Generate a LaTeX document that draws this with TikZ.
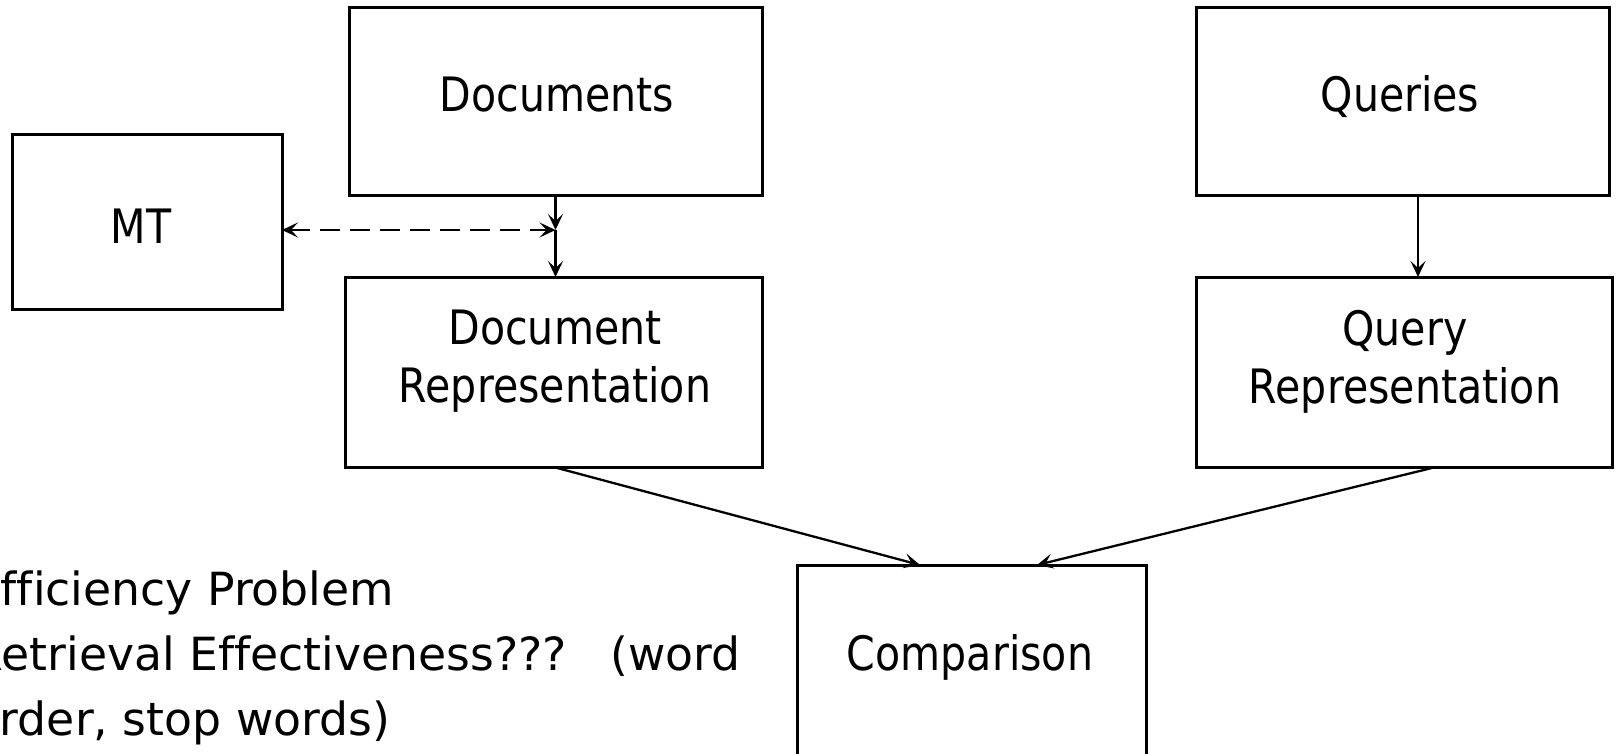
\documentclass[tikz,border=0pt]{standalone}
\usepackage{fontspec}
\setmainfont{DejaVu Sans}
\newfontfamily\boxfont{DejaVu Sans}[FakeStretch=0.867,Ligatures=NoCommon]
\newfontfamily\bodyfont{DejaVu Sans}[Ligatures=NoCommon]
\usetikzlibrary{arrows.meta}
\begin{document}
\begin{tikzpicture}[x=1pt,y=-1pt,
  box/.style={draw,line width=3pt,inner sep=0pt,outer sep=0pt},
  lbl/.style={inner sep=0pt,outer sep=0pt,font=\boxfont\fontsize{47.4}{58}\selectfont,align=center},
  body/.style={inner sep=0pt,outer sep=0pt,anchor=base west,font=\bodyfont\fontsize{45.7}{65}\selectfont},
  tip/.style={},
  arr/.style={line width=2.3pt,-{Stealth[length=16pt,width=15pt,inset=7pt]}},
  darr/.style={line width=2.3pt,dash pattern=on 20pt off 10pt,{Stealth[length=16pt,width=15pt,inset=7pt]}-{Stealth[length=16pt,width=15pt,inset=7pt]}},
]
\useasboundingbox (0,0) rectangle (1616,754);
\fill[white] (0,0) rectangle (1616,754);
\clip (0,0) rectangle (1616,754);

% boxes
\node[box,minimum width=413pt,minimum height=188pt] (D) at (555.5,102) {};
\node[box,minimum width=413pt,minimum height=188pt] (Q) at (1402.5,102) {};
\node[box,minimum width=270pt,minimum height=174pt] (MT) at (147,222) {};
\node[box,minimum width=417pt,minimum height=190pt] (DR) at (553.5,372) {};
\node[box,minimum width=416pt,minimum height=190pt] (QR) at (1404,372) {};
\node[box,minimum width=349pt,minimum height=192pt] (C) at (971.5,661) {};

% labels
\node[lbl,anchor=base] (tD) at (557,112) {Documents};
\node[lbl,anchor=base] (tQ) at (1400,112) {Queries};
\node[lbl,anchor=base] (tMT) at (141,243) {MT};
\node[lbl,anchor=north] (tDR) at (555,310.4) {Document\\Representation};
\node[lbl,anchor=north] (tQR) at (1405,310.4) {Query\\Representation};
\node[lbl,anchor=base] (tC) at (970,670) {Comparison};

% body text (its left edge is cut off by the picture's border, as in the original)
\node[body] (b1) at (-28,605) {Efficiency Problem};
\node[body] (b2) at (-28,670) {Retrieval Effectiveness???\ \ \ (word};
\node[body] (b3) at (-28,735) {order, stop words)};

% connectors
\coordinate (j) at (555.5,230);
\coordinate (qx) at (1418,0);
\coordinate (qs) at (1436,467);
\coordinate (cl) at (920,565);
\coordinate (cr) at (1037,565);

\draw[arr] (D.south) -- (j);
\draw[arr] (j) -- (j |- DR.north);
\draw[darr] (MT.east |- j) -- (j);
\draw[arr] (qx |- Q.south) -- (qx |- QR.north);
\draw[arr] (DR.south) -- (cl);
\draw[arr] (qs) -- (cr);
\end{tikzpicture}
\end{document}
